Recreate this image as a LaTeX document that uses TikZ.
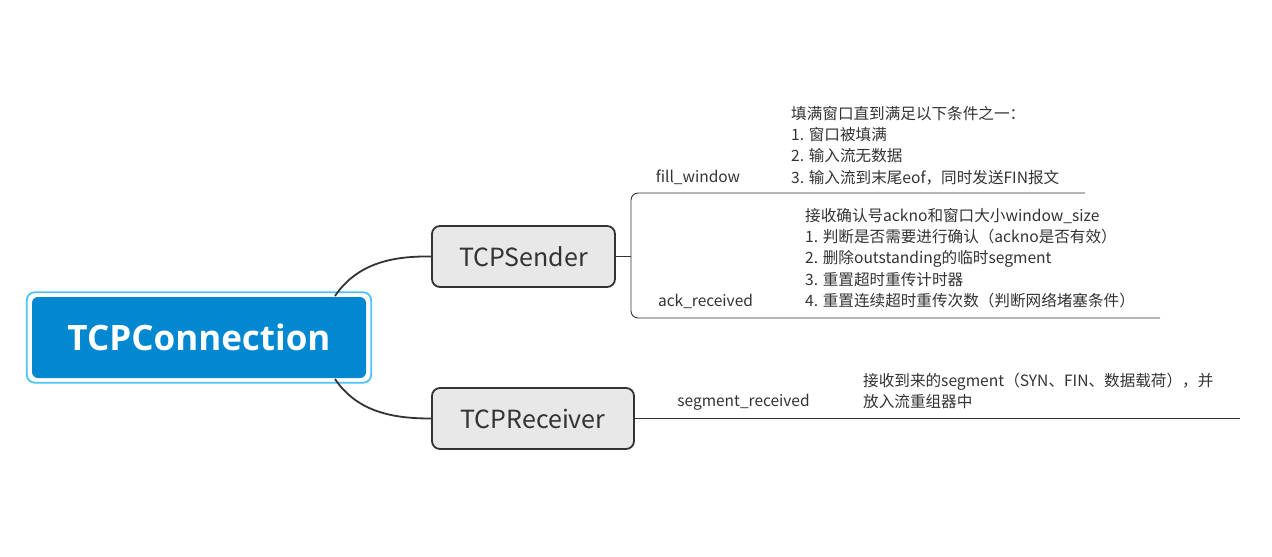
\documentclass[tikz,border=0pt]{standalone}
\usepackage{fontspec}
\setmainfont{Noto Sans CJK SC}
\newfontfamily\titlefont{Open Sans}
\usetikzlibrary{calc}
\definecolor{rootblue}{HTML}{0288D1}
\definecolor{rootedge}{HTML}{4FC3F7}
\definecolor{boxgray}{HTML}{E8E8E8}
\definecolor{ink}{HTML}{333333}
\tikzset{
  rootbox/.style={fill=rootblue, draw=none, rounded corners=6pt, minimum width=334pt, minimum height=81pt, inner sep=0pt, text=white, font={\titlefont\bfseries\fontsize{35}{40}\selectfont}},
  subbox/.style={fill=boxgray, draw=ink, line width=1.8pt, rounded corners=8pt, minimum height=61pt, inner sep=0pt, text=ink, font={\fontsize{25}{30}\selectfont}},
  leaflabel/.style={inner sep=0pt, text=ink, font={\fontsize{15.5}{21}\selectfont}},
  desc/.style={inner sep=0pt, text=ink, align=left, anchor=north west, font={\fontsize{15.6}{21.3}\selectfont}},
  branch/.style={draw=ink, line width=1.8pt},
  twig/.style={draw=ink, line width=0.9pt}
}
\begin{document}
\begin{tikzpicture}[x=1pt,y=-1pt]
\useasboundingbox[fill=white] (0,0) rectangle (1272,557);
\node[rootbox] (root) at (199,337.5) {TCPConnection};
\draw[rootedge, line width=1.8pt, rounded corners=8pt] ($(root.south west)+(-5,4.5)$) rectangle ($(root.north east)+(5,-4.5)$);
\node[subbox, minimum width=183pt] (sender) at (523.5,256.5) {TCPSender};
\node[subbox, minimum width=202pt] (receiver) at (533,418.5) {TCPReceiver};
\coordinate (s1) at (335,296);
\coordinate (s2) at (335,379);
\draw[branch] (s1) .. controls (358,262) and (395,256) .. (sender.west);
\draw[branch] (s2) .. controls (358,413) and (395,418.5) .. (receiver.west);
% sender branches
\coordinate (bj) at (631,256.5);
\coordinate (fwend) at (1085,193);
\coordinate (fwcorner) at (631,193);
\coordinate (arcorner) at (631,318);
\coordinate (arend) at (1160,318);
\draw[twig] (sender.east) -- (bj);
\draw[twig, rounded corners=7pt] (fwend) -- (fwcorner) -- (arcorner) -- (arend);
\node[leaflabel] (fw) at (698,177) {fill\_window};
\node[desc] (fwdesc) at (791,106) {填满窗口直到满足以下条件之一：\\1. 窗口被填满\\2. 输入流无数据\\3. 输入流到末尾eof，同时发送FIN报文};
\node[leaflabel] (ar) at (705.5,301) {ack\_received};
\node[desc] (ardesc) at (805,208) {接收确认号ackno和窗口大小window\_size\\1. 判断是否需要进行确认（ackno是否有效）\\2. 删除outstanding的临时segment\\3. 重置超时重传计时器\\4. 重置连续超时重传次数（判断网络堵塞条件）};
% receiver branch
\coordinate (srend) at (1240,418.5);
\draw[twig] (receiver.east) -- (srend);
\node[leaflabel] (sr) at (743.5,402) {segment\_received};
\node[desc] (srdesc) at (863,373) {接收到来的segment（SYN、FIN、数据载荷），并\\放入流重组器中};
\end{tikzpicture}
\end{document}
